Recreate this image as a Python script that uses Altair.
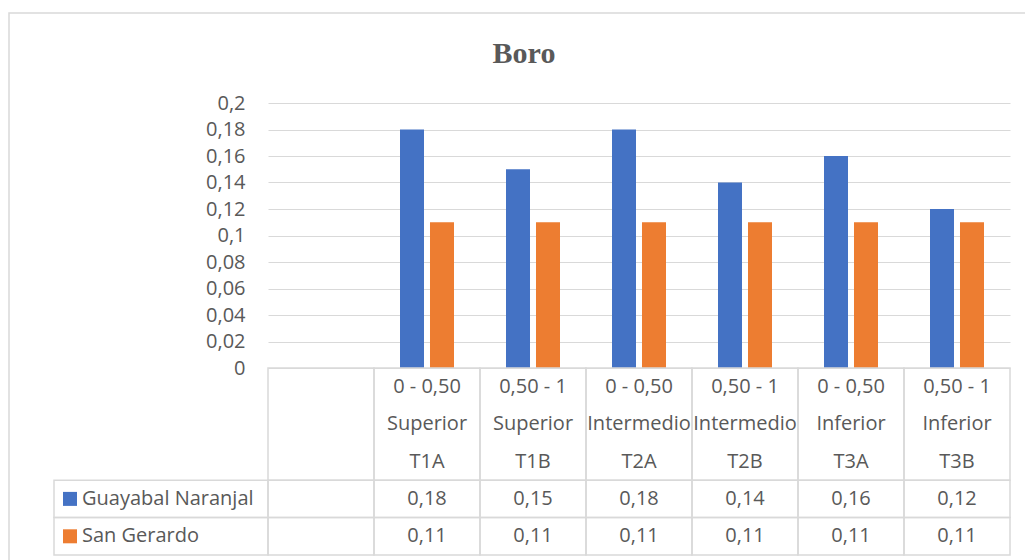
import altair as alt
import pandas as pd

# --- chart data -------------------------------------------------------------
title_text = "Boro"
codes = ["T1A", "T1B", "T2A", "T2B", "T3A", "T3B"]
depths = ["0 - 0,50", "0,50 - 1", "0 - 0,50", "0,50 - 1", "0 - 0,50", "0,50 - 1"]
zones = ["Superior", "Superior", "Intermedio", "Intermedio", "Inferior", "Inferior"]
series = ["Guayabal Naranjal", "San Gerardo"]
guayabal = [0.18, 0.15, 0.18, 0.14, 0.16, 0.12]
san_gerardo = [0.11, 0.11, 0.11, 0.11, 0.11, 0.11]
y_ticks = [0, 0.02, 0.04, 0.06, 0.08, 0.1, 0.12, 0.14, 0.16, 0.18, 0.2]
colors = ["#4472C4", "#ED7D31"]

# --- layout -----------------------------------------------------------------
FONT = "Open Sans"
TXT = "#595959"
GRID = "#d9d9d9"
LEFT_W = 214          # width of the series-name column of the data table
W = 956               # whole drawing width (table + plot)
PLOT_H = 265          # bar area
TABLE_H = 187         # data table under the bars
H = PLOT_H + TABLE_H

columns = [""] + codes  # first table column is left empty

bars = pd.DataFrame(
    [{"cat": c, "series": series[0], "value": v} for c, v in zip(codes, guayabal)]
    + [{"cat": c, "series": series[1], "value": v} for c, v in zip(codes, san_gerardo)]
)

# table rows in "line units": 3 header lines, then one line per series
row_span = {"head": (0, 3), series[0]: (3, 4), series[1]: (4, 5)}
cells = pd.DataFrame(
    [{"cat": c, "y0": a, "y1": b} for c in columns for (a, b) in row_span.values()]
)
legend_cells = pd.DataFrame(
    [{"series": s, "y0": row_span[s][0], "y1": row_span[s][1]} for s in series]
)
legend_rows = pd.DataFrame(
    [{"series": s, "u": (row_span[s][0] + row_span[s][1]) / 2} for s in series]
)
header = pd.DataFrame(
    [{"cat": c, "line": t, "u": i + 0.5}
     for c, d, z in zip(codes, depths, zones)
     for i, t in enumerate([d, z, c])]
)
values = bars.assign(u=bars["series"].map(lambda s: (row_span[s][0] + row_span[s][1]) / 2))

x_scale = alt.Scale(domain=columns, range=[LEFT_W, W], paddingInner=0, paddingOuter=0)
color_scale = alt.Scale(domain=series, range=colors)
table_y = alt.Scale(domain=[0, 5], range=[PLOT_H, H], nice=False, zero=False)

# outer chart border (runs past the right and bottom edges of the page)
frame = alt.Chart(pd.DataFrame({"k": [0]})).mark_rect(
    fill="white", fillOpacity=0, stroke=GRID, strokeWidth=1.5
).encode(
    x=alt.value(-45), x2=alt.value(1200), y=alt.value(-90), y2=alt.value(700)
)

title = alt.Chart(pd.DataFrame({"t": [title_text]})).mark_text(
    font="Liberation Serif", fontSize=30, fontWeight="bold", color=TXT,
    align="center", baseline="alphabetic",
).encode(x=alt.value(470), y=alt.value(-40), text="t:N")

bar_layer = alt.Chart(bars).mark_bar().encode(
    x=alt.X("cat:N", scale=x_scale, axis=None),
    xOffset=alt.XOffset(
        "series:N", scale=alt.Scale(domain=series, paddingInner=0.2, paddingOuter=0.8667)
    ),
    y=alt.Y(
        "value:Q",
        scale=alt.Scale(domain=[0, 0.2], range=[PLOT_H, 0], nice=False),
        axis=alt.Axis(
            values=y_ticks,
            labelExpr="replace(format(datum.value, '.2~f'), '.', ',')",
            grid=True, gridColor=GRID, gridWidth=1.2,
            domain=False, ticks=False, tickSize=0,
            offset=-LEFT_W, labelPadding=23,
            labelFont=FONT, labelFontSize=20, labelColor=TXT, title=None,
        ),
    ),
    color=alt.Color("series:N", scale=color_scale, legend=None),
)

cell_layer = alt.Chart(cells).mark_rect(
    fill="white", fillOpacity=0, stroke=GRID, strokeWidth=1.5
).encode(
    x=alt.X("cat:N", scale=x_scale, axis=None),
    y=alt.Y("y0:Q", scale=table_y, axis=None),
    y2="y1:Q",
)

legend_cell_layer = alt.Chart(legend_cells).mark_rect(
    fill="white", fillOpacity=0, stroke=GRID, strokeWidth=1.5
).encode(
    x=alt.value(0), x2=alt.value(LEFT_W),
    y=alt.Y("y0:Q", scale=table_y, axis=None),
    y2="y1:Q",
)

header_layer = alt.Chart(header).mark_text(
    font=FONT, fontSize=20, color=TXT
).encode(
    x=alt.X("cat:N", scale=x_scale, axis=None),
    y=alt.Y("u:Q", scale=table_y, axis=None),
    text="line:N",
)

value_layer = alt.Chart(values).transform_calculate(
    label="replace(format(datum.value, '.2~f'), '.', ',')"
).mark_text(font=FONT, fontSize=20, color=TXT).encode(
    x=alt.X("cat:N", scale=x_scale, axis=None),
    y=alt.Y("u:Q", scale=table_y, axis=None),
    text="label:N",
)

legend_sq = alt.Chart(legend_rows).mark_square(size=196, opacity=1).encode(
    x=alt.value(16),
    y=alt.Y("u:Q", scale=table_y, axis=None),
    color=alt.Color("series:N", scale=color_scale, legend=None),
)

legend_txt = alt.Chart(legend_rows).mark_text(
    font=FONT, fontSize=20, color=TXT, align="left"
).encode(
    x=alt.value(28),
    y=alt.Y("u:Q", scale=table_y, axis=None),
    text="series:N",
)

chart = alt.layer(
    frame, title, bar_layer, cell_layer, legend_cell_layer,
    header_layer, value_layer, legend_sq, legend_txt,
).resolve_scale(y="independent").properties(
    width=W,
    height=H,
    padding={"left": 54, "top": 103, "right": 15, "bottom": 5},
    autosize=alt.AutoSizeParams(type="none"),
    background="white",
).configure_view(stroke=None)

chart.save("out.html", embed_options={"renderer": "svg", "actions": False})
